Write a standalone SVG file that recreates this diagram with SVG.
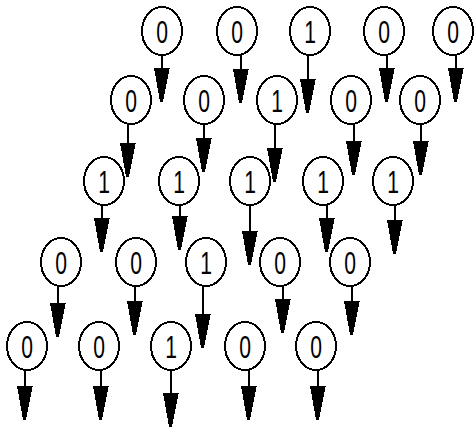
<svg xmlns="http://www.w3.org/2000/svg" width="476" height="428" viewBox="0 0 476 428">
<style>
.n ellipse{fill:#fff;stroke:#000;stroke-width:2;shape-rendering:crispEdges}
.n text{font-family:"Liberation Sans",Arial,sans-serif;font-size:32px;text-anchor:middle;fill:#000}
.c line{stroke:#000;stroke-width:2;marker-end:url(#ah);shape-rendering:crispEdges}
</style>
<defs>
<marker id="ah" markerUnits="userSpaceOnUse" viewBox="-10 -36 20 37" refX="0" refY="0" markerWidth="20" markerHeight="37" orient="0">
<polygon points="-8,-34 8,-34 7,-31 1,0 -2,0 -7,-29" fill="#000" shape-rendering="crispEdges"/>
</marker>
</defs>
<rect width="476" height="428" fill="#fff"/>
<g class="c" id="connectors">
<line x1="162" y1="54" x2="162" y2="102"/>
<line x1="241" y1="54" x2="241" y2="103"/>
<line x1="308" y1="54" x2="308" y2="113"/>
<line x1="387" y1="54" x2="387" y2="102"/>
<line x1="456" y1="54" x2="456" y2="102"/>
<line x1="128" y1="123" x2="128" y2="177"/>
<line x1="204" y1="123" x2="204" y2="172"/>
<line x1="275" y1="123" x2="275" y2="182"/>
<line x1="354" y1="123" x2="354" y2="175"/>
<line x1="421" y1="123" x2="421" y2="175"/>
<line x1="102" y1="204" x2="102" y2="252"/>
<line x1="180" y1="204" x2="180" y2="250"/>
<line x1="250" y1="204" x2="250" y2="265"/>
<line x1="327" y1="204" x2="327" y2="252"/>
<line x1="395" y1="204" x2="395" y2="254"/>
<line x1="58" y1="285" x2="58" y2="337"/>
<line x1="135" y1="285" x2="135" y2="335"/>
<line x1="203" y1="285" x2="203" y2="348"/>
<line x1="283" y1="285" x2="283" y2="333"/>
<line x1="352" y1="285" x2="352" y2="335"/>
<line x1="25" y1="369" x2="25" y2="420"/>
<line x1="101" y1="369" x2="101" y2="420"/>
<line x1="171" y1="369" x2="171" y2="427"/>
<line x1="249" y1="369" x2="249" y2="420"/>
<line x1="318" y1="369" x2="318" y2="420"/>
</g>
<g class="n" id="n1_1"><ellipse cx="162" cy="31" rx="20" ry="24"/><text transform="translate(162 42.5) scale(0.66 1)">0</text></g>
<g class="n" id="n1_2"><ellipse cx="237" cy="31" rx="20" ry="24"/><text transform="translate(237 42.5) scale(0.66 1)">0</text></g>
<g class="n" id="n1_3"><ellipse cx="310" cy="31" rx="20" ry="24"/><text transform="translate(310 42.5) scale(0.66 1)">1</text></g>
<g class="n" id="n1_4"><ellipse cx="384" cy="31" rx="20" ry="24"/><text transform="translate(384 42.5) scale(0.66 1)">0</text></g>
<g class="n" id="n1_5"><ellipse cx="453" cy="31" rx="20" ry="24"/><text transform="translate(453 42.5) scale(0.66 1)">0</text></g>
<g class="n" id="n2_1"><ellipse cx="131" cy="100" rx="20" ry="24"/><text transform="translate(131 111.5) scale(0.66 1)">0</text></g>
<g class="n" id="n2_2"><ellipse cx="204" cy="100" rx="20" ry="24"/><text transform="translate(204 111.5) scale(0.66 1)">0</text></g>
<g class="n" id="n2_3"><ellipse cx="277" cy="100" rx="20" ry="24"/><text transform="translate(277 111.5) scale(0.66 1)">1</text></g>
<g class="n" id="n2_4"><ellipse cx="351" cy="100" rx="20" ry="24"/><text transform="translate(351 111.5) scale(0.66 1)">0</text></g>
<g class="n" id="n2_5"><ellipse cx="420" cy="100" rx="20" ry="24"/><text transform="translate(420 111.5) scale(0.66 1)">0</text></g>
<g class="n" id="n3_1"><ellipse cx="104" cy="181" rx="20" ry="24"/><text transform="translate(104 192.5) scale(0.66 1)">1</text></g>
<g class="n" id="n3_2"><ellipse cx="179" cy="181" rx="20" ry="24"/><text transform="translate(179 192.5) scale(0.66 1)">1</text></g>
<g class="n" id="n3_3"><ellipse cx="250" cy="181" rx="20" ry="24"/><text transform="translate(250 192.5) scale(0.66 1)">1</text></g>
<g class="n" id="n3_4"><ellipse cx="323" cy="181" rx="20" ry="24"/><text transform="translate(323 192.5) scale(0.66 1)">1</text></g>
<g class="n" id="n3_5"><ellipse cx="393" cy="181" rx="20" ry="24"/><text transform="translate(393 192.5) scale(0.66 1)">1</text></g>
<g class="n" id="n4_1"><ellipse cx="61" cy="262" rx="20" ry="24"/><text transform="translate(61 273.5) scale(0.66 1)">0</text></g>
<g class="n" id="n4_2"><ellipse cx="136" cy="262" rx="20" ry="24"/><text transform="translate(136 273.5) scale(0.66 1)">0</text></g>
<g class="n" id="n4_3"><ellipse cx="206" cy="262" rx="20" ry="24"/><text transform="translate(206 273.5) scale(0.66 1)">1</text></g>
<g class="n" id="n4_4"><ellipse cx="280" cy="262" rx="20" ry="24"/><text transform="translate(280 273.5) scale(0.66 1)">0</text></g>
<g class="n" id="n4_5"><ellipse cx="350" cy="262" rx="20" ry="24"/><text transform="translate(350 273.5) scale(0.66 1)">0</text></g>
<g class="n" id="n5_1"><ellipse cx="27" cy="346" rx="20" ry="24"/><text transform="translate(27 357.5) scale(0.66 1)">0</text></g>
<g class="n" id="n5_2"><ellipse cx="99" cy="346" rx="20" ry="24"/><text transform="translate(99 357.5) scale(0.66 1)">0</text></g>
<g class="n" id="n5_3"><ellipse cx="171" cy="346" rx="20" ry="24"/><text transform="translate(171 357.5) scale(0.66 1)">1</text></g>
<g class="n" id="n5_4"><ellipse cx="245" cy="346" rx="20" ry="24"/><text transform="translate(245 357.5) scale(0.66 1)">0</text></g>
<g class="n" id="n5_5"><ellipse cx="316" cy="346" rx="20" ry="24"/><text transform="translate(316 357.5) scale(0.66 1)">0</text></g>
</svg>
